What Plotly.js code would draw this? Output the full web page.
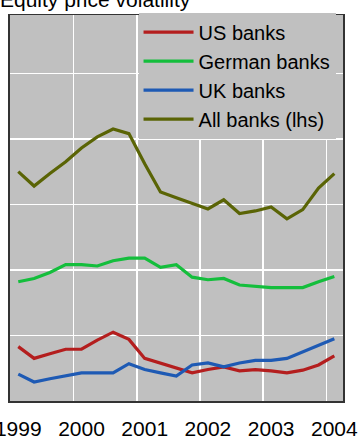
<!DOCTYPE html>
<html>
<head>
<meta charset="utf-8">
<script src="https://cdn.plot.ly/plotly-3.0.1.min.js"></script>
<style>html,body{margin:0;padding:0;background:#fff;}#chart{width:358px;height:440px;}</style>
</head>
<body>
<div id="chart"></div>
<script>
// Quarterly observations, 1999 Q1 – 2004 Q1
var quarters = [1999.00,1999.25,1999.50,1999.75,2000.00,2000.25,2000.50,2000.75,2001.00,2001.25,2001.50,2001.75,2002.00,2002.25,2002.50,2002.75,2003.00,2003.25,2003.50,2003.75,2004.00];
var yearTicks = [1999,2000,2001,2002,2003,2004];
var yearLabels = ['1999','2000','2001','2002','2003','2004'];
var gridYears = [1999.875,2000.875,2001.875,2002.875,2003.875];

var usBanks     = [8.3,6.5,7.2,7.9,7.9,9.3,10.5,9.4,6.5,5.8,5.0,4.3,4.8,5.2,4.6,4.8,4.6,4.3,4.7,5.5,6.9];
var germanBanks = [18.2,18.7,19.6,20.8,20.8,20.6,21.4,21.8,21.8,20.4,20.8,18.9,18.5,18.7,17.7,17.5,17.3,17.3,17.3,18.2,19.0];
var ukBanks     = [4.1,2.9,3.4,3.9,4.3,4.3,4.3,5.7,4.8,4.3,3.8,5.5,5.8,5.2,5.8,6.2,6.2,6.5,7.5,8.4,9.5];
var allBanks    = [35.0,32.8,34.7,36.5,38.6,40.3,41.5,40.8,36.2,31.9,31.0,30.1,29.3,30.7,28.6,29.0,29.6,27.8,29.2,32.5,34.7];

var seriesNames  = ['US banks','German banks','UK banks','All banks (lhs)'];
var seriesColors = ['#b41e1e','#14be3c','#1e5ab4','#5a6405'];
var seriesData   = [usBanks, germanBanks, ukBanks, allBanks];

var traces = seriesData.map(function(d,i){
  return {x: quarters, y: d, type:'scatter', mode:'lines', name: seriesNames[i],
          line:{color: seriesColors[i], width:3.2}};
});

var layout = {
  width:358, height:440,
  margin:{l:10, r:15, t:15, b:39},
  paper_bgcolor:'#ffffff', plot_bgcolor:'#c0c0c0',
  font:{family:'Liberation Sans, Arial, sans-serif', size:21, color:'#000'},
  title:{text:'Equity price volatility', x:0.0, xanchor:'left', xref:'container', y:1, yref:'container', yanchor:'middle', font:{size:21}},
  showlegend:true,
  legend:{x:0.386, xanchor:'left', y:1.006, yanchor:'top', bgcolor:'#c0c0c0', borderwidth:0,
          font:{size:20}, itemwidth:50, tracegroupgap:0},
  xaxis:{range:[1998.869,2004.137], tickmode:'array', tickvals:yearTicks, ticktext:yearLabels,
         showgrid:false, zeroline:false, showline:true, mirror:true, linecolor:'#333', linewidth:1.5,
         ticks:'', tickfont:{size:21}, ticklabeloverflow:'allow', ticklabelstandoff:8,
         minor:{tickmode:'array', tickvals:gridYears, showgrid:true, gridcolor:'#ffffff', gridwidth:1.5, ticks:''}},
  yaxis:{range:[0,58.9], dtick:10, tick0:0, showticklabels:false, showgrid:true, gridcolor:'#ffffff', gridwidth:1.5,
         zeroline:false, showline:true, mirror:true, linecolor:'#333', linewidth:2, ticks:''}
};

Plotly.newPlot('chart', traces, layout, {displayModeBar:false, staticPlot:true});
</script>
</body>
</html>
